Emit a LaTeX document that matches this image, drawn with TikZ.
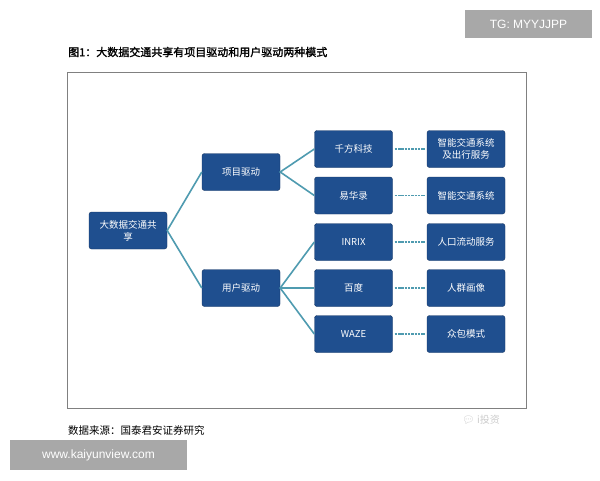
\documentclass[tikz,border=0pt]{standalone}
\usepackage{fontspec}
\setmainfont{Liberation Sans}
\newfontfamily\cjk{Noto Sans CJK SC}
\newfontfamily\cjkb{Noto Sans CJK SC}[FakeBold=1.5]
\newfontfamily\emo{Noto Emoji}
\definecolor{boxblue}{HTML}{1F4F8F}
\definecolor{linkteal}{HTML}{4F9BB0}
\definecolor{wm}{HTML}{A8A8A8}
\begin{document}
\begin{tikzpicture}[x=1pt,y=-1pt,
  bx/.style={draw=boxblue!70!black,fill=boxblue,rounded corners=2.5pt,minimum width=78pt,minimum height=37pt,text=white,font=\cjk\fontsize{9.5}{12}\selectfont,align=center,inner sep=1pt},
  lk/.style={draw=linkteal,line width=1.6pt},
  dl/.style={draw=linkteal,line width=1.6pt,dash pattern=on 2.5pt off 0.8pt}]
\useasboundingbox (0,0) rectangle (600,480);
\fill[white] (0,0) rectangle (600,480);
\node[fill=wm,text=white,minimum width=127pt,minimum height=28pt,inner sep=0pt,font=\fontsize{12}{14}\selectfont] (tg) at (528.5,24) {TG: MYYJJPP};
\node[anchor=west,inner sep=0pt,font=\cjkb\fontsize{11}{13}\selectfont] (title) at (68,52) {图1：大数据交通共享有项目驱动和用户驱动两种模式};
\draw[gray,line width=0.8pt] (67,72) rectangle (526,408);
\node[anchor=west,inner sep=0pt,font=\cjk\fontsize{10.5}{12}\selectfont] (src) at (68,430) {数据来源：国泰君安证券研究};
\node[anchor=west,inner sep=0pt,text=gray!40,font=\cjk\fontsize{10}{12}\selectfont] (wx) at (462,420) {{\emo\char"1F4AC}\ i投资};
\node[fill=wm,text=white,minimum width=177pt,minimum height=30pt,inner sep=0pt,font=\fontsize{12}{14}\selectfont] (ky) at (98.5,455) {www.kaiyunview.com};
\node[bx] (root) at (128,230.5) {大数据交通共\\享};
\node[bx] (p) at (241,172) {项目驱动};
\node[bx] (u) at (241,288) {用户驱动};
\node[bx] (a1) at (353.5,149) {千方科技};
\node[bx] (a2) at (353.5,195.5) {易华录};
\node[bx] (a3) at (353.5,242) {INRIX};
\node[bx] (a4) at (353.5,288) {百度};
\node[bx] (a5) at (353.5,334) {WAZE};
\node[bx] (b1) at (466,149) {智能交通系统\\及出行服务};
\node[bx] (b2) at (466,195.5) {智能交通系统};
\node[bx] (b3) at (466,242) {人口流动服务};
\node[bx] (b4) at (466,288) {人群画像};
\node[bx] (b5) at (466,334) {众包模式};
\draw[lk] (p.west) -- (root.east) -- (u.west);
\draw[lk] (a1.west) -- (p.east) -- (a2.west);
\draw[lk] (a3.west) -- (u.east) -- (a5.west);
\draw[lk] (u.east) -- (a4.west);
\foreach \i in {1,...,5} \draw[dl] ([xshift=2pt]a\i.east) -- ([xshift=-2pt]b\i.west);
\end{tikzpicture}
\end{document}
